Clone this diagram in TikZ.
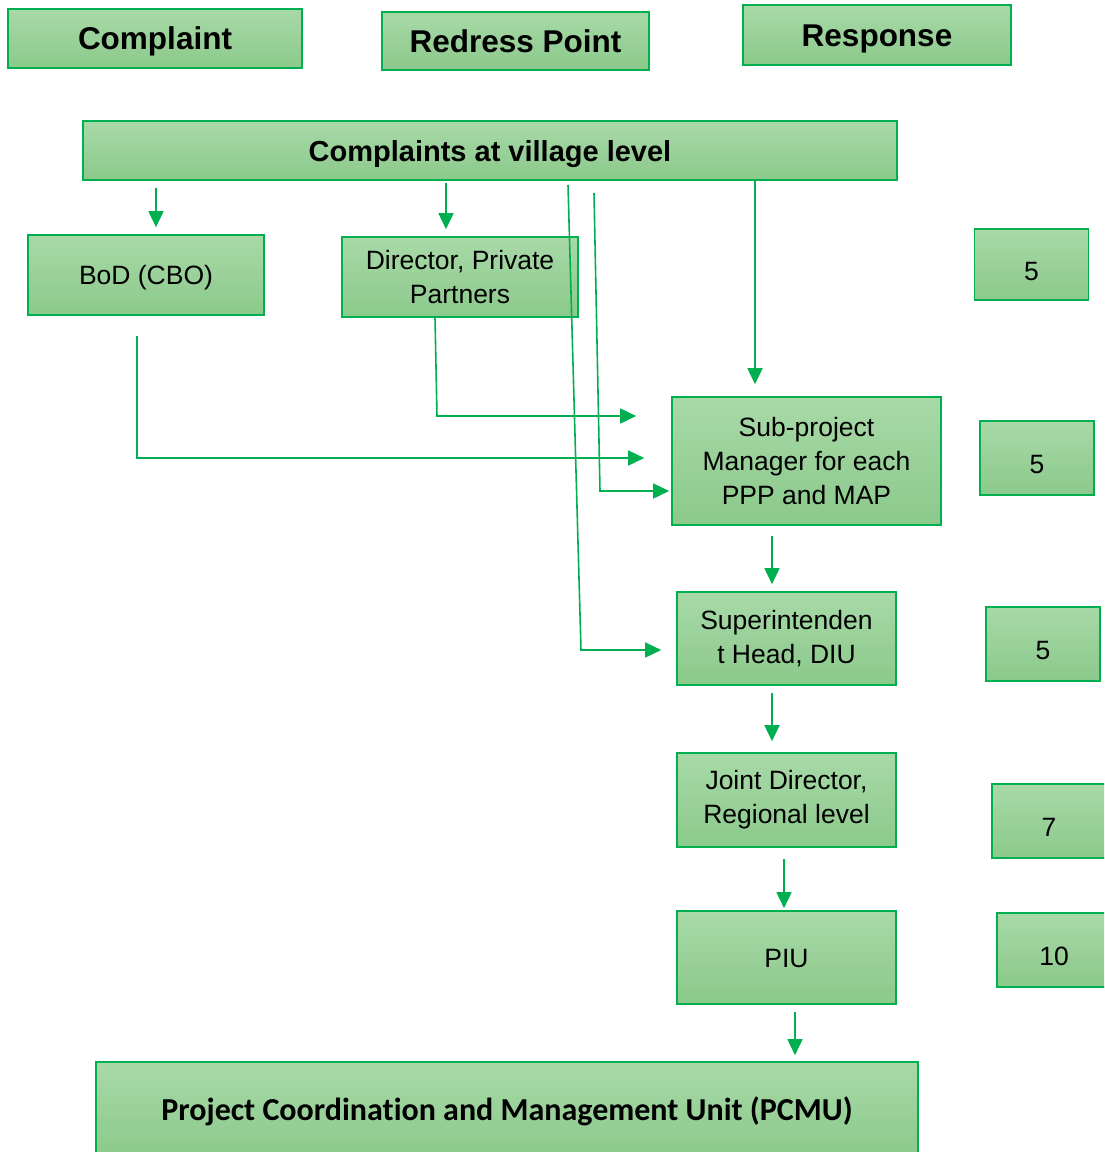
\documentclass[tikz,border=0pt]{standalone}
\usepackage{fontspec}
\setmainfont{Liberation Sans}
\newfontfamily\calib[Ligatures=CommonOff]{Carlito}
\usetikzlibrary{arrows.meta,calc}
\definecolor{gtop}{HTML}{A8D9A8}
\definecolor{gbot}{HTML}{8BC98B}
\definecolor{gline}{HTML}{00B050}
\begin{document}
\begin{tikzpicture}[x=1pt,y=1pt,
  box/.style={draw=gline, line width=1.6pt, top color=gtop, bottom color=gbot,
    align=center, inner sep=0pt, text=black},
  head/.style={box, font=\fontsize{31.5}{36}\selectfont\bfseries, text height=22.6pt, text depth=0pt},
  body/.style={box, font=\fontsize{26.5}{34}\selectfont},
  single/.style={body, text height=19pt, text depth=0pt},
  numbox/.style={body, minimum width=114pt, minimum height=74pt,
    text height=31pt, text depth=0pt},
  arr/.style={draw=gline, line width=1.6pt, -{Triangle[length=16pt,width=15pt]}}
]
\useasboundingbox (0,0) rectangle (1104,-1152);
\clip (0,0) rectangle (1104,-1152);

% column headings
\node[head, minimum width=294pt, minimum height=59pt] (hcomp) at (155,-38.5) {Complaint};
\node[head, minimum width=267pt, minimum height=58pt] (hred) at (515.5,-41) {Redress Point};
\node[head, minimum width=268pt, minimum height=60pt] (hresp) at (877,-35) {Response};

% entry point
\node[box, font=\fontsize{29}{34}\selectfont\bfseries, text height=21pt, text depth=0pt,
  minimum width=814pt, minimum height=59pt] (village) at (490,-150.5) {Complaints at village level};

% redress points
\node[single, minimum width=236pt, minimum height=80pt] (bod) at (146,-275) {BoD (CBO)};
\node[body, minimum width=236pt, minimum height=80pt] (dir) at (460,-277) {Director, Private\\Partners};
\node[body, minimum width=269pt, minimum height=128pt] (spm) at (806.5,-461) {Sub-project\\Manager for each\\PPP and MAP};
\node[body, minimum width=219pt, minimum height=93pt] (sup) at (786.5,-638.5) {Superintenden\\t Head, DIU};
\node[body, minimum width=219pt, minimum height=94pt] (jd) at (786.5,-800) {Joint Director,\\Regional level};
\node[single, minimum width=219pt, minimum height=93pt] (piu) at (786.5,-957.5) {PIU};
\node[box, font=\calib\fontsize{32}{38}\selectfont\bfseries, text height=20.5pt, text depth=0pt,
  minimum width=822pt, minimum height=96pt] (pcmu) at (507,-1110) {Project Coordination and Management Unit (PCMU)};

% response times (days)
\node[numbox, minimum height=71pt] (n1) at (1031.5,-264.5) {5};
\node[numbox] (n2) at (1037,-458) {5};
\node[numbox] (n3) at (1043,-644) {5};
\node[numbox] (n4) at (1049,-821) {7};
\node[numbox] (n5) at (1054,-950) {10};

% from the village level down to the first redress points
\draw[arr, shorten <=7pt, shorten >=7pt] ([xshift=10pt]bod.north |- village.south) -- ([xshift=10pt]bod.north);
\draw[arr, shorten <=2pt, shorten >=7pt] ([xshift=-14pt]dir.north |- village.south) -- ([xshift=-14pt]dir.north);
\draw[arr, shorten >=12pt] ([xshift=-51.5pt]spm.north |- village.south) -- ([xshift=-51.5pt]spm.north);

% direct routes from the village level
\coordinate (v1) at (568,-185);
\coordinate (k1) at (581,-650);
\draw[arr, shorten >=15pt] (v1) -- (k1) -- (k1 -| sup.west);
\coordinate (v2) at (594,-193);
\coordinate (k2) at (600,-491);
\draw[arr, shorten >=2pt] (v2) -- (k2) -- (k2 -| spm.west);

% escalation from BoD and Director to the sub-project manager
\coordinate (k3) at (437,-416);
\draw[arr, shorten >=35pt] ([xshift=-25pt]dir.south) -- (k3) -- (k3 -| spm.west);
\coordinate (k4) at (137,-458);
\draw[arr, shorten <=20pt, shorten >=27pt] ([xshift=-9pt]bod.south) -- (k4) -- (k4 -| spm.west);

% escalation chain
\draw[arr, shorten <=10pt, shorten >=7pt] ([xshift=-14.5pt]sup.north |- spm.south) -- ([xshift=-14.5pt]sup.north);
\draw[arr, shorten <=7pt, shorten >=11pt] ([xshift=-14.5pt]sup.south) -- ([xshift=-14.5pt]jd.north);
\draw[arr, shorten <=11pt, shorten >=2pt] ([xshift=-2.5pt]jd.south) -- ([xshift=-2.5pt]piu.north);
\draw[arr, shorten <=7pt, shorten >=6pt] ([xshift=8.5pt]piu.south) -- ([xshift=8.5pt]piu.south |- pcmu.north);
\end{tikzpicture}
\end{document}
